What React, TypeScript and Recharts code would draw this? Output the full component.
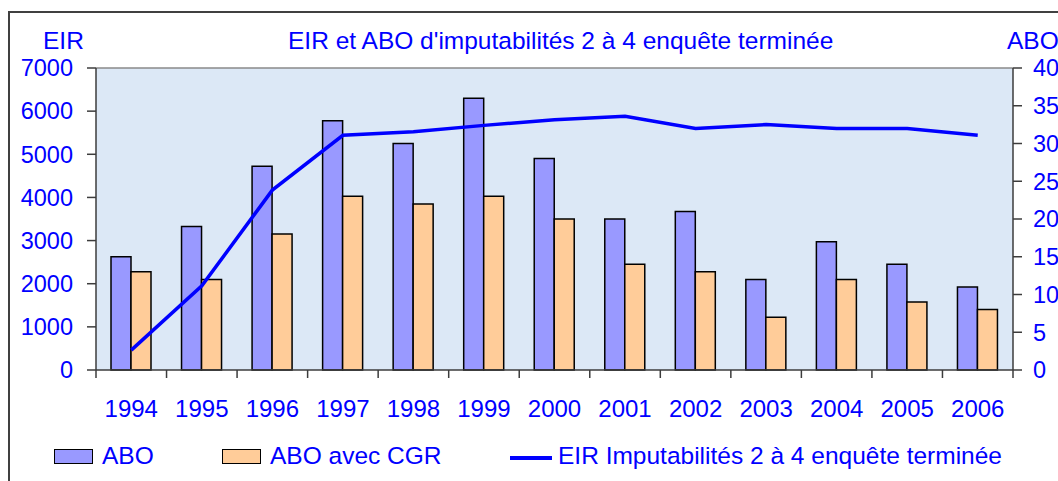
import React from 'react';
import {
  ComposedChart,
  Bar,
  Line,
  XAxis,
  YAxis,
  CartesianGrid,
  ReferenceLine,
} from 'recharts';

const YEARS = ['1994', '1995', '1996', '1997', '1998', '1999', '2000', '2001', '2002', '2003', '2004', '2005', '2006'];
const ABO = [15, 19, 27, 33, 30, 36, 28, 20, 21, 12, 17, 14, 11];
const ABO_CGR = [13, 12, 18, 23, 22, 23, 20, 14, 13, 7, 12, 9, 8];
const EIR = [460, 1950, 4170, 5440, 5520, 5670, 5800, 5880, 5600, 5690, 5600, 5600, 5440];
const LEFT_TICKS = [0, 1000, 2000, 3000, 4000, 5000, 6000, 7000];
const RIGHT_TICKS = [0, 5, 10, 15, 20, 25, 30, 35, 40];
const TITLE = "EIR et ABO d'imputabilités 2 à 4 enquête terminée";
const SERIES_NAMES = ['ABO', 'ABO avec CGR', 'EIR Imputabilités 2 à 4 enquête terminée'];

const data = YEARS.map((y, i) => ({ year: y, abo: ABO[i], cgr: ABO_CGR[i], eir: EIR[i] }));

const BLUE = '#0000FF';
const FONT = '"Liberation Sans", Arial, sans-serif';
const AXIS = '#3c3c3c';

const XTick = (props: any) => {
  const { x, y, payload, index } = props;
  const off = payload && payload.offset ? payload.offset : 35.27;
  const axisY = y - 8;
  return (
    <g>
      <line x1={x - off} x2={x - off} y1={axisY} y2={axisY + 8} stroke={AXIS} strokeWidth={1.5} />
      {index === YEARS.length - 1 && (
        <line x1={x + off} x2={x + off} y1={axisY} y2={axisY + 8} stroke={AXIS} strokeWidth={1.5} />
      )}
      <text x={x} y={axisY + 47} textAnchor="middle" fill={BLUE} fontSize={24} fontFamily={FONT}>
        {payload.value}
      </text>
    </g>
  );
};

export default function App() {
  return (
    <div
      style={{
        position: 'absolute',
        left: 0,
        top: 0,
        width: 1058,
        height: 481,
        overflow: 'hidden',
        background: '#ffffff',
        fontFamily: FONT,
      }}
    >
      <div
        style={{
          position: 'absolute',
          left: 8,
          top: 11,
          width: 1200,
          height: 600,
          borderLeft: '2px solid #404040',
          borderTop: '2px solid #404040',
        }}
      />
      <div style={{ position: 'absolute', left: 0, top: 0 }}>
        <ComposedChart
          width={1058}
          height={481}
          data={data}
          margin={{ top: 68, right: 0, bottom: 71, left: 0 }}
          barCategoryGap={15}
          barGap={0}
        >
          <CartesianGrid
            horizontal={false}
            vertical={false}
            fill="#dce8f6"
            stroke="none"
            yAxisId="left"
          />
          <XAxis
            dataKey="year"
            height={40}
            tickSize={8}
            tickMargin={0}
            tickLine={false}
            axisLine={{ stroke: AXIS, strokeWidth: 1.5 }}
            tick={<XTick />}
            interval={0}
          />
          <YAxis
            yAxisId="left"
            orientation="left"
            width={96}
            domain={[0, 7000]}
            ticks={LEFT_TICKS}
            tickSize={9}
            tickMargin={14}
            axisLine={{ stroke: AXIS, strokeWidth: 1.5 }}
            tickLine={{ stroke: AXIS, strokeWidth: 1.5 }}
            tick={{ fill: BLUE, fontSize: 23.5, fontFamily: FONT }}
            interval={0}
          />
          <YAxis
            yAxisId="right"
            orientation="right"
            width={45}
            domain={[0, 40]}
            ticks={RIGHT_TICKS}
            tickSize={9}
            tickMargin={11}
            axisLine={{ stroke: AXIS, strokeWidth: 1.5 }}
            tickLine={{ stroke: AXIS, strokeWidth: 1.5 }}
            tick={{ fill: BLUE, fontSize: 23.5, fontFamily: FONT, textAnchor: 'start' }}
            interval={0}
          />
          <ReferenceLine yAxisId="left" y={7000} stroke="#8a8a8a" strokeWidth={1.5} />
          <Bar
            yAxisId="right"
            dataKey="abo"
            name={SERIES_NAMES[0]}
            fill="#9999FF"
            stroke="#000000"
            strokeWidth={1.5}
            isAnimationActive={false}
          />
          <Bar
            yAxisId="right"
            dataKey="cgr"
            name={SERIES_NAMES[1]}
            fill="#FFCC99"
            stroke="#000000"
            strokeWidth={1.5}
            isAnimationActive={false}
          />
          <Line
            yAxisId="left"
            type="linear"
            dataKey="eir"
            name={SERIES_NAMES[2]}
            stroke={BLUE}
            strokeWidth={3.5}
            dot={false}
            activeDot={false}
            isAnimationActive={false}
          />
        </ComposedChart>
      </div>
      <div style={{ position: 'absolute', left: 0, top: 27, width: 1058, height: 30, color: BLUE, fontSize: 24.5 }}>
        <span style={{ position: 'absolute', left: 43, top: 0 }}>EIR</span>
        <span style={{ position: 'absolute', left: 288, top: 0, whiteSpace: 'nowrap' }}>{TITLE}</span>
        <span style={{ position: 'absolute', left: 1007, top: 0 }}>ABO</span>
      </div>
      <div style={{ position: 'absolute', left: 0, top: 442, width: 1058, height: 30, color: BLUE, fontSize: 24.5 }}>
        <div
          style={{
            position: 'absolute',
            left: 54,
            top: 7,
            width: 37,
            height: 13,
            background: '#9999FF',
            border: '1.5px solid #000',
          }}
        />
        <span style={{ position: 'absolute', left: 102, top: 0 }}>{SERIES_NAMES[0]}</span>
        <div
          style={{
            position: 'absolute',
            left: 222,
            top: 7,
            width: 37,
            height: 13,
            background: '#FFCC99',
            border: '1.5px solid #000',
          }}
        />
        <span style={{ position: 'absolute', left: 270, top: 0, whiteSpace: 'nowrap' }}>{SERIES_NAMES[1]}</span>
        <div style={{ position: 'absolute', left: 510, top: 14, width: 42, height: 4, background: BLUE }} />
        <span style={{ position: 'absolute', left: 558, top: 0, whiteSpace: 'nowrap' }}>{SERIES_NAMES[2]}</span>
      </div>
    </div>
  );
}
